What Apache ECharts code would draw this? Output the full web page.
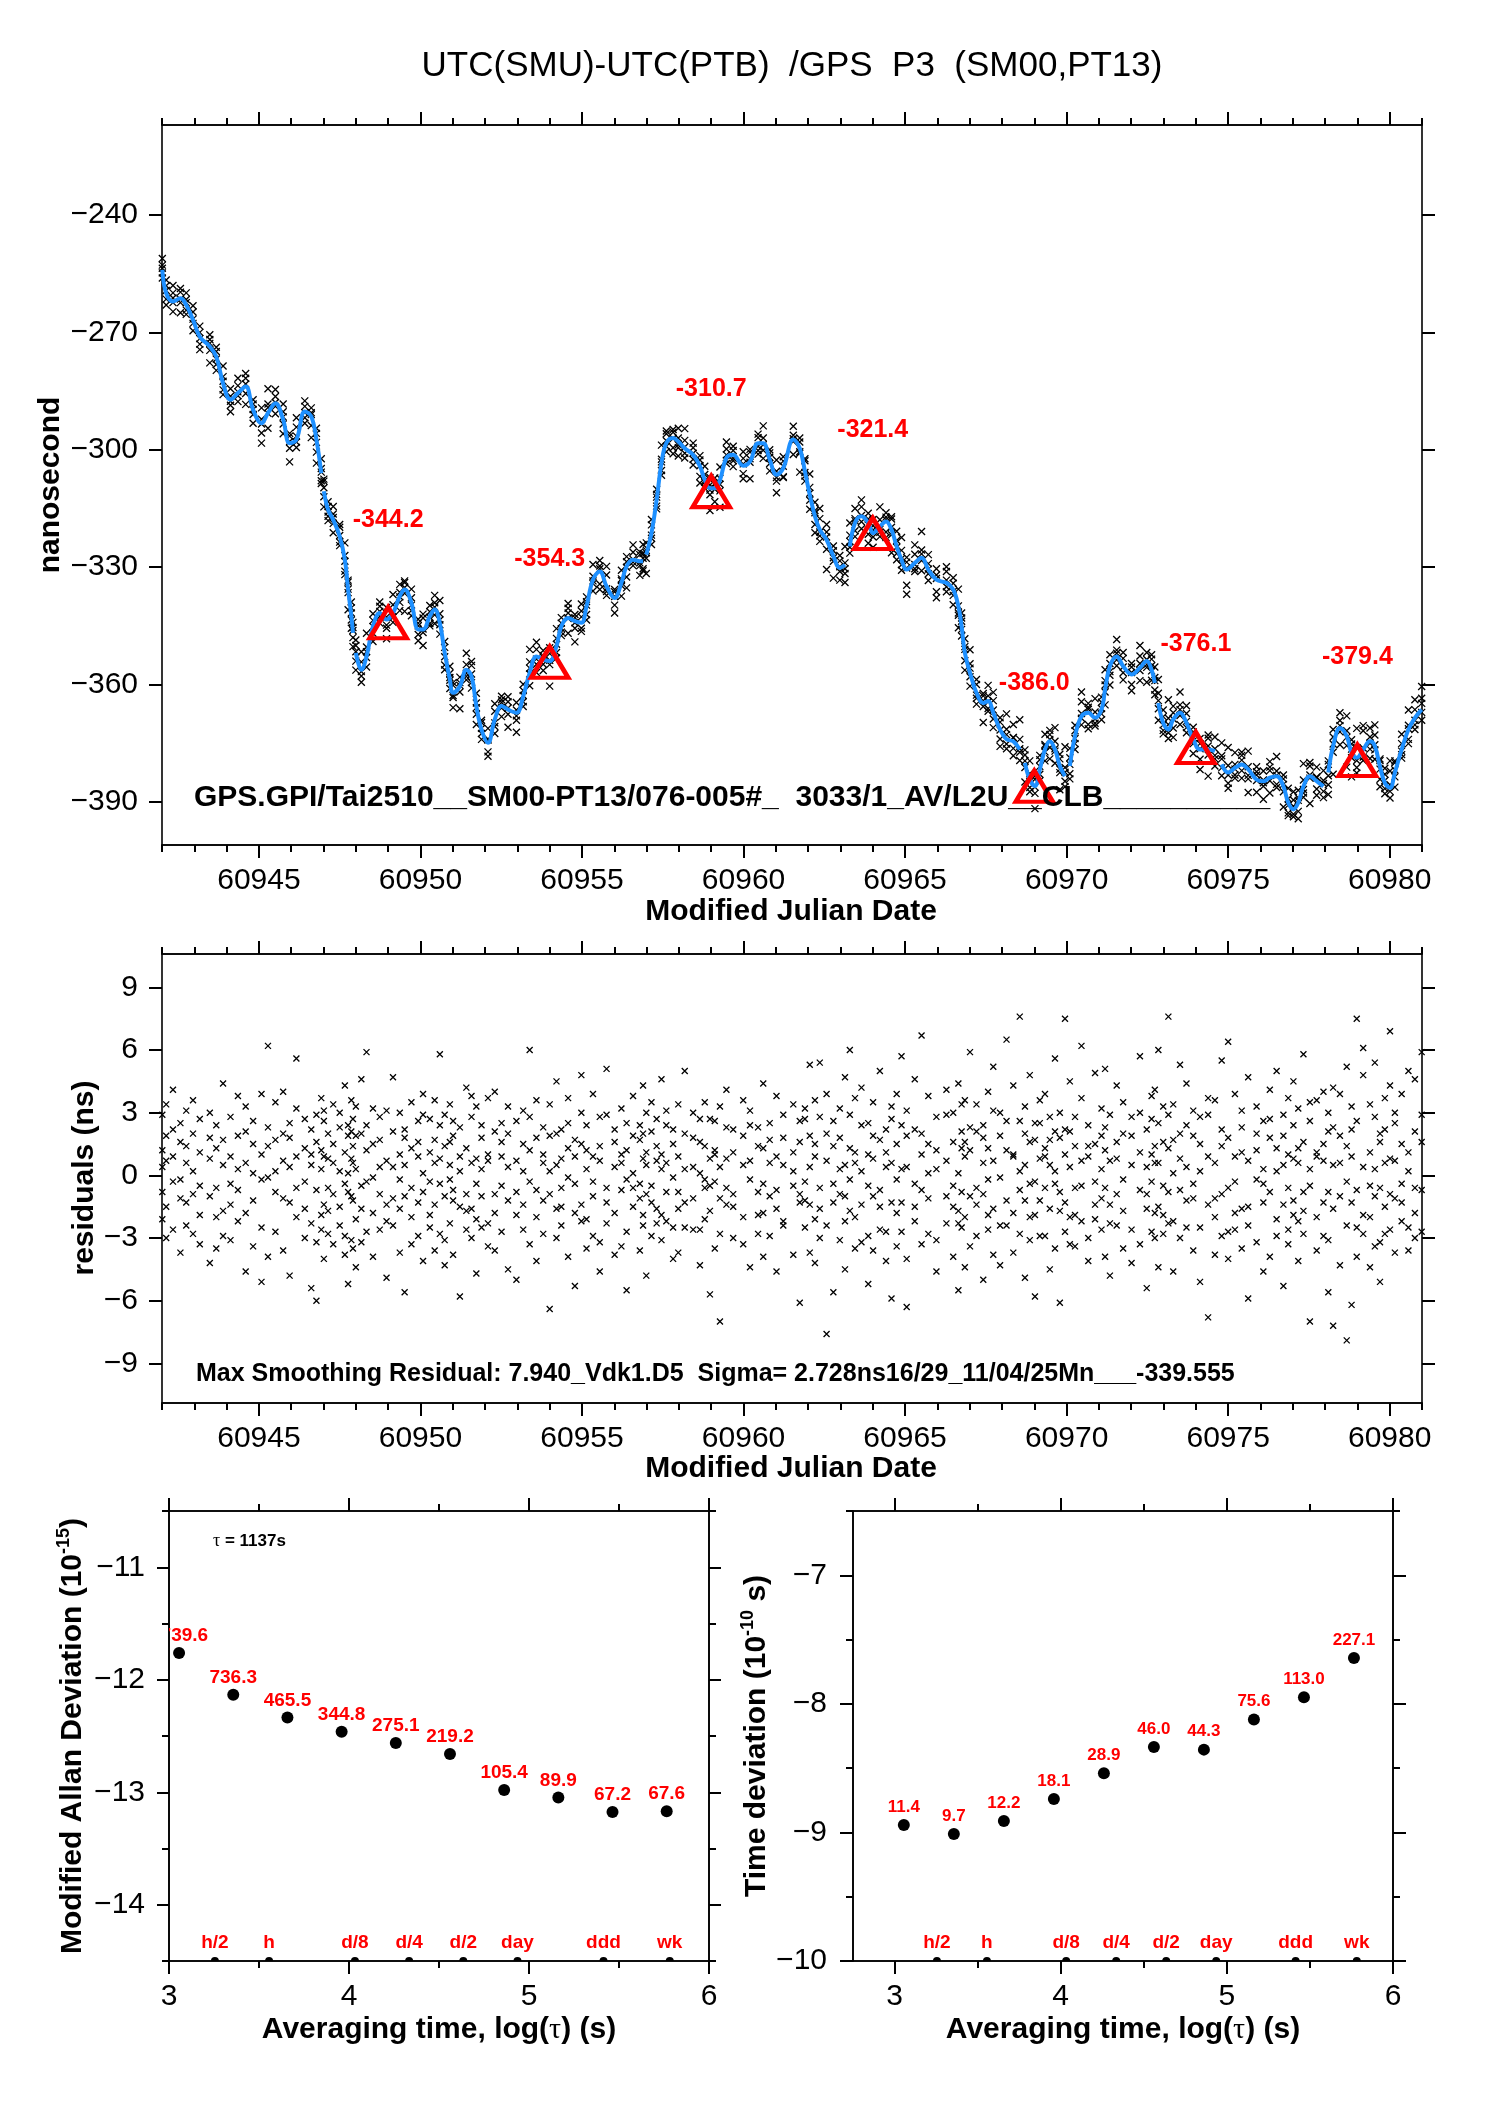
<!DOCTYPE html>
<html><head><meta charset="utf-8">
<script src="https://cdn.jsdelivr.net/npm/echarts@6/dist/echarts.min.js"></script>
<style>html,body{margin:0;padding:0;background:#fff}#c{width:1488px;height:2105px}</style>
</head><body><div id="c"></div>
<script>
// ---- smoothed curve (blue), [MJD, ns]; null = gap
const SMOOTH = [
[60942.01,-254.0],[60942.13,-260.0],[60942.34,-262.1],[60942.57,-261.3],[60942.75,-263.0],[60942.96,-266.8],
[60943.17,-271.1],[60943.48,-273.6],[60943.68,-276.2],[60943.89,-283.0],[60944.12,-287.2],[60944.35,-285.5],
[60944.59,-283.8],[60944.82,-289.8],[60945.08,-293.2],[60945.28,-290.6],[60945.51,-288.1],[60945.75,-292.3],
[60945.95,-298.3],[60946.16,-297.4],[60946.42,-290.2],[60946.62,-291.5],[60946.78,-297.4],[60946.93,-306.0],
[60946.97,null],[60947.01,-310.6],[60947.14,-315.3],[60947.30,-317.9],[60947.50,-322.1],[60947.66,-328.1],
[60947.76,-335.7],[60947.86,-342.5],[60947.91,-346.8],[60947.95,null],[60948.00,-351.9],[60948.17,-356.2],
[60948.33,-352.8],[60948.53,-345.1],[60948.74,-341.7],[60948.95,-343.4],[60949.15,-341.7],[60949.36,-337.4],
[60949.51,-335.7],[60949.72,-339.1],[60949.93,-345.9],[60950.08,-345.9],[60950.29,-342.5],[60950.44,-340.8],
[60950.60,-344.3],[60950.75,-351.9],[60950.91,-358.7],[60951.01,-362.1],[60951.22,-360.4],[60951.42,-356.2],
[60951.58,-357.9],[60951.73,-365.5],[60951.89,-371.5],[60952.09,-374.9],[60952.30,-368.9],[60952.51,-365.5],
[60952.71,-366.4],[60952.97,-367.2],[60953.18,-363.0],[60953.38,-357.0],[60953.59,-352.8],[60953.80,-353.6],
[60954.00,-354.0],[60954.21,-350.2],[60954.36,-345.1],[60954.57,-343.0],[60954.78,-343.8],[60954.98,-344.2],
[60955.14,-340.0],[60955.34,-333.2],[60955.55,-331.1],[60955.76,-334.9],[60956.01,-337.9],[60956.22,-334.0],
[60956.38,-329.8],[60956.58,-328.1],[60956.79,-328.5],[60956.89,-328.5],[60956.94,null],[60956.99,-326.8],
[60957.15,-321.3],[60957.31,-312.8],[60957.46,-303.4],[60957.61,-298.3],[60957.82,-297.0],[60957.98,-297.9],
[60958.18,-299.6],[60958.44,-301.3],[60958.65,-304.2],[60958.80,-307.7],[60958.96,-309.8],[60959.11,-309.8],
[60959.27,-307.7],[60959.47,-302.1],[60959.68,-301.3],[60959.99,-304.1],[60960.20,-303.0],[60960.45,-298.3],
[60960.61,-298.3],[60960.81,-302.5],[60961.02,-306.4],[60961.23,-304.7],[60961.54,-297.4],[60961.74,-299.6],
[60961.90,-305.5],[60962.05,-311.5],[60962.21,-317.0],[60962.36,-320.4],[60962.57,-323.0],[60962.78,-327.2],
[60962.98,-330.2],[60963.14,-329.4],[60963.20,null],[60963.29,-324.7],[60963.45,-318.7],[60963.65,-317.0],
[60963.86,-318.7],[60964.01,-321.3],[60964.22,-319.6],[60964.41,-318.3],[60964.58,-320.4],[60964.74,-324.7],
[60964.89,-328.1],[60965.05,-330.6],[60965.30,-328.9],[60965.51,-327.6],[60965.72,-330.6],[60965.97,-333.2],
[60966.28,-334.0],[60966.49,-335.7],[60966.65,-340.0],[60966.75,-345.1],[60966.85,-351.9],[60967.01,-357.0],
[60967.21,-362.1],[60967.42,-364.7],[60967.57,-364.2],[60967.73,-367.2],[60967.94,-371.5],[60968.14,-374.0],
[60968.35,-374.5],[60968.55,-376.6],[60968.63,null],[60968.71,-380.0],[60968.86,-384.3],[60969.02,-385.9],
[60969.17,-381.7],[60969.33,-376.6],[60969.48,-374.5],[60969.64,-376.6],[60969.79,-380.8],[60969.95,-383.4],
[60970.02,null],[60970.10,-380.8],[60970.26,-373.2],[60970.46,-368.1],[60970.67,-367.2],[60970.88,-368.5],
[60971.08,-366.4],[60971.19,-361.3],[60971.34,-355.3],[60971.55,-352.8],[60971.75,-355.3],[60972.01,-357.4],
[60972.27,-355.7],[60972.48,-354.0],[60972.63,-356.2],[60972.73,-359.6],[60972.78,null],[60972.84,-364.7],
[60972.99,-369.8],[60973.15,-371.5],[60973.30,-368.9],[60973.51,-367.2],[60973.71,-369.8],[60973.92,-374.0],
[60974.13,-376.6],[60974.38,-376.6],[60974.59,-377.0],[60974.69,null],[60974.80,-380.4],[60975.00,-382.5],
[60975.21,-381.3],[60975.42,-380.4],[60975.62,-381.7],[60975.88,-384.3],[60976.09,-384.7],[60976.29,-383.8],
[60976.50,-383.4],[60976.71,-386.0],[60976.86,-390.2],[60977.02,-391.9],[60977.17,-390.2],[60977.33,-386.0],
[60977.53,-383.4],[60977.74,-384.7],[60977.95,-386.0],[60978.02,null],[60978.10,-382.5],[60978.25,-375.7],
[60978.46,-371.1],[60978.67,-373.2],[60978.82,-377.4],[60978.98,-378.7],[60979.18,-376.6],[60979.39,-374.5],
[60979.54,-375.7],[60979.70,-381.0],[60979.85,-385.1],[60980.01,-386.4],[60980.16,-382.5],[60980.37,-376.6],
[60980.58,-371.5],[60980.78,-368.5],[60980.99,-366.4]
];
// ---- smoothing residuals (ns), 5 per non-gap smoothing epoch, in order
const RES = [
1.2,-0.8,2.9,-2.1,0.4, -1.5,3.4,0.7,-3.0,1.9, 2.2,-0.3,-2.6,4.1,0.9, -1.1,1.6,-3.7,2.5,-0.2,
0.6,-2.4,3.1,-1.3,1.4, 3.6,-0.9,0.2,-2.8,2.0, -3.3,1.1,2.7,-0.5,-1.9, 0.8,-4.2,1.8,3.0,-1.0,
-2.0,2.4,-0.6,1.3,-3.5, 4.4,-1.7,0.5,-2.9,1.7, -0.4,2.8,-3.1,0.9,-1.4, 1.9,-2.2,3.8,-0.7,0.3,
-1.8,0.6,-4.6,2.1,3.3, 2.6,-1.2,0.1,-3.4,1.5, -0.2,3.9,-2.5,1.0,-5.1, 1.4,-0.1,2.3,-3.9,6.2,
-2.7,1.7,-0.8,3.5,0.2, 0.7,-3.6,2.0,-1.1,4.0, -1.3,2.5,-4.8,0.4,1.8, 3.2,-2.0,0.9,-0.6,5.6,
-3.0,1.3,-1.6,2.7,-0.3, 0.5,-5.4,2.2,-2.3,1.0, 2.9,-0.7,-3.2,1.6,-6.0, -1.9,3.7,0.3,-2.6,1.2,
0.9,-1.4,2.6,-4.0,3.1, -0.6,2.0,-2.8,0.8,-1.7, 3.4,-3.3,1.5,-0.9,0.6, -2.4,0.2,3.0,-1.5,2.3,
1.1,-2.9,-0.4,4.3,-3.8, -0.8,1.9,-5.2,2.4,0.1, 2.1,-1.0,0.8,-3.1,3.6, -3.5,2.7,-1.2,0.6,1.4,
0.3,-2.1,3.3,-4.4,1.9, -1.6,4.6,-0.5,2.0,-3.2, 2.4,-0.3,-2.7,1.2,5.9, -0.1,1.5,-3.9,3.2,-1.8,
1.7,-2.6,0.4,-0.9,2.8, -2.2,3.1,-1.4,0.7,-4.9, 0.4,-1.1,2.1,-2.4,4.7, 3.0,-3.7,1.0,-0.2,-1.6,
-1.0,2.2,-5.6,1.8,0.5, 1.3,-0.6,3.5,-2.0,-3.3, -2.9,0.9,1.6,-1.3,2.6, 0.1,-4.1,2.9,3.9,-0.8,
2.7,-1.9,-0.3,1.1,-2.5, -1.4,3.6,0.6,-3.6,1.7, 0.8,-2.8,2.4,-0.4,5.8, -3.1,1.4,-1.0,2.9,-4.3,
1.6,-0.2,-2.3,0.5,3.4, -0.7,2.6,-3.8,1.9,-1.2, 2.3,-1.5,0.9,-5.8,0.2, -1.7,4.2,-0.9,1.3,-2.6,
0.6,-3.0,2.8,-1.6,3.8, 3.3,-0.4,-2.1,0.8,-4.7, -2.5,1.8,0.3,-1.0,2.4, 1.0,-2.3,3.7,-3.4,0.7,
-0.9,2.1,-1.8,4.0,-3.6, 2.5,-0.5,0.9,-2.7,1.6, -1.2,3.3,-4.5,0.4,2.0, 0.7,-1.9,2.6,-0.8,-5.0,
3.1,-2.6,0.2,1.5,-1.4, -0.3,1.2,-3.3,2.8,6.0, 1.8,-0.7,-2.0,3.6,-4.1, -2.8,2.3,0.6,-1.2,1.0,
0.2,-6.4,1.9,-0.9,3.4, 2.0,-1.6,4.5,-3.0,0.5, -1.5,0.8,-2.4,2.2,-0.6, 3.7,-3.9,1.3,-0.1,2.5,
-0.4,1.7,-5.3,0.9,-1.8, 1.5,-2.2,3.0,-1.4,4.8, -2.1,0.3,2.4,-3.5,1.2, 0.9,-1.0,-2.9,3.9,-0.3,
2.8,-3.2,0.7,1.4,-4.6, -1.3,2.9,-0.6,5.1,-2.3, 0.4,-1.8,1.6,-3.8,2.2, -3.4,1.0,3.2,-0.7,0.6,
1.2,-2.7,-0.2,2.5,-5.5, -0.6,3.8,-1.5,0.1,1.9, 2.4,-0.4,-3.6,1.7,-1.1, -1.9,2.0,0.8,-2.4,4.3,
0.5,-4.8,1.1,3.0,-0.9, 3.5,-1.3,-0.5,2.1,-2.9, -2.3,0.7,2.7,-1.6,1.4, 1.0,-3.1,0.3,4.6,-1.9,
-0.8,2.4,-2.2,0.6,3.1, 2.2,-0.1,-4.0,1.5,-2.5, -1.6,3.4,0.9,-0.8,-3.7, 0.3,-2.5,2.0,-1.3,5.0,
3.0,-1.1,-2.6,0.4,1.8, -2.6,1.6,0.1,-4.3,2.7, 1.4,-0.6,3.5,-2.1,-0.2, -0.5,2.7,-1.7,0.8,-5.7,
2.6,-3.5,1.2,-0.3,1.0, -1.1,0.4,-2.8,3.3,-7.0, 0.8,-1.4,4.1,-0.6,2.3, -3.0,2.2,-0.9,1.1,-1.5,
1.9,-2.0,0.5,-3.3,3.6, -0.2,3.1,-4.4,2.4,0.7, 2.3,-0.8,1.4,-1.9,-2.8, -1.8,1.3,-0.4,4.4,-3.9,
0.6,-2.9,2.5,-1.0,1.7, 3.8,-1.6,-0.7,0.9,-4.6, -2.4,0.5,1.8,-2.2,2.9, 1.1,-3.8,3.4,-0.5,0.2,
-0.9,2.6,-1.3,1.6,-6.1, 2.7,-0.3,-2.5,3.2,-1.2, -1.4,1.9,0.4,-3.7,5.3,
0.9,-2.1,3.6,-4.2,1.5, -1.6,2.8,-0.6,5.4,-3.0, 2.0,-7.6,0.7,-2.4,3.9, -0.4,1.4,-5.6,2.6,-1.3,
3.2,-0.9,1.8,-3.1,0.3, -2.2,4.7,-1.0,0.5,-4.5, 1.3,-1.7,2.9,-0.2,6.0, -3.5,0.6,-2.0,3.7,1.1,
0.2,-3.2,4.2,-1.4,2.4, 2.5,-0.5,-2.9,1.0,-5.2, -1.0,3.5,0.8,-3.6,1.9, 1.7,-2.6,5.0,-0.7,-1.5,
-2.7,1.1,-4.1,2.2,0.4, 0.6,-1.3,2.7,-5.9,3.3, 3.9,-0.2,-1.8,1.5,-3.4, -1.3,2.4,0.3,-2.7,5.7,
0.4,-4.0,1.9,3.1,-6.3, 2.2,-1.5,-0.4,4.6,-2.2, -0.7,1.0,-3.3,2.0,6.7, 1.5,-2.8,3.8,-1.1,0.1,
-3.1,0.3,1.2,-4.6,2.8, 2.9,-1.0,-2.3,0.7,4.1, -1.5,3.0,-0.5,-3.9,1.6, 0.1,-2.3,4.4,-1.7,-5.5,
3.4,-0.8,1.3,-2.5,2.1, -2.0,1.6,-4.4,0.9,3.6, 1.2,-3.4,2.3,5.9,-1.0, -0.6,2.1,-1.4,3.4,-2.9,
2.4,-5.0,0.6,-0.9,1.8, -1.9,4.0,-2.6,1.3,-0.2, 0.7,-1.6,3.1,-3.8,5.2, 3.0,-2.4,-0.1,1.9,-4.3,
-2.4,1.2,2.6,-1.2,6.5, 0.9,-3.7,1.0,4.3,-1.8, 2.6,-0.7,-2.8,0.2,7.6, -1.2,3.3,0.5,-4.9,2.0,
1.6,-2.0,4.8,-0.4,-3.1, -0.3,2.5,-1.9,1.7,-5.8, 3.6,-1.2,0.8,-2.9,2.5, -2.9,0.9,3.9,-0.6,1.3,
0.5,-4.5,1.7,2.8,-1.6, 2.1,-0.4,-3.5,5.6,0.2, -1.7,1.8,-0.8,3.0,-6.1, 1.0,-2.7,7.5,-1.3,2.2,
-3.3,0.4,2.1,-2.0,4.5, 2.8,-1.9,-0.6,1.4,-3.4, -0.5,3.7,-2.2,0.7,6.2, 1.4,-3.0,2.4,-4.1,0.9,
-2.1,1.5,-0.3,4.9,-1.4, 0.3,-1.1,3.2,-2.6,1.9,
2.3,-0.6,-3.9,1.2,5.1, -1.4,2.9,0.7,-2.3,-4.8, 0.8,-2.4,4.3,-0.9,1.6, 3.5,-1.7,-0.2,2.0,-3.5,
-2.6,0.5,1.9,-4.2,2.8, 1.1,-3.3,3.0,5.7,-0.7, -0.9,2.2,-1.6,0.4,-5.4, 2.7,-0.3,-2.7,3.8,1.0,
-1.8,4.1,0.6,-3.0,1.4, 0.6,-1.5,2.5,-4.4,6.0, 3.3,-2.8,-0.5,1.6,-1.9, -2.3,7.6,1.3,-0.8,2.9,
1.7,-4.6,3.4,0.1,-2.2, -0.7,2.0,-3.0,5.3,0.8, 2.4,-1.2,0.4,-2.5,4.4, -3.6,1.9,-1.1,3.1,-0.4,
0.2,-2.5,2.8,-5.1,1.5, 2.9,-6.8,0.9,-1.4,3.7, -1.1,3.6,-3.8,0.6,-2.0, 1.4,-0.9,2.2,-2.9,5.5,
-2.7,6.4,-0.6,1.8,-4.0, 0.9,-1.8,3.9,-0.3,-2.6, 3.1,-3.5,1.1,-1.6,2.3, -1.5,0.7,-2.4,4.7,-5.9,
2.0,-0.2,3.3,-3.2,1.2, -0.4,2.6,-1.3,0.3,-4.6, 1.8,-3.9,4.1,-0.8,2.7, -2.9,1.3,0.2,-2.1,5.0,
0.5,-1.4,2.9,-5.3,1.9, 3.7,-0.6,-2.6,1.0,-3.3, -1.2,4.5,0.8,-1.9,2.4, 1.3,-2.2,-4.1,3.2,0.6,
-0.8,1.6,-1.7,5.8,-2.8, 2.6,-7.0,0.3,-0.5,3.5, -2.0,0.9,3.6,-3.6,1.1, 0.7,-2.9,1.5,4.0,-1.3,
3.0,-0.8,-3.1,2.1,-5.6, -1.6,2.3,-7.2,0.5,4.2, 1.9,-4.3,0.6,3.9,-1.0, -0.3,5.2,-7.9,1.4,-2.4,
2.2,-1.3,3.3,-6.2,0.9, -2.5,7.5,-0.7,2.6,-3.9, 0.4,-1.9,4.8,-2.8,6.1, 3.4,-0.5,-2.0,1.1,-4.4,
-1.0,2.8,0.3,-3.4,5.4, 1.6,-3.2,2.0,-0.6,-5.1, -2.8,0.6,3.7,-1.5,2.2, 0.8,6.9,-2.6,4.3,-0.9,
2.5,-1.1,-3.7,0.7,3.0, -1.3,3.9,-0.4,-2.2,1.5, 1.1,-2.5,5.0,-3.6,0.2, -0.6,2.1,-1.8,4.6,-3.0,
2.9,-0.7,1.6,-2.7,5.9
];
const PER_EPOCH = 5;
// ---- weekly reference points on the top panel
const TRI_X = [60949,60954,60959,60964,60969,60974,60979];
const TRI_Y = [-344.2,-354.3,-310.7,-321.4,-386.0,-376.1,-379.4];
// ---- stability plots
const LOGTAU = [3.056,3.357,3.658,3.959,4.260,4.561,4.862,5.163,5.464,5.765];
const MDEV = [-11.762,-12.134,-12.335,-12.463,-12.562,-12.661,-12.980,-13.047,-13.175,-13.168];
const MDEV_LABELS = ['1739.6','736.3','465.5','344.8','275.1','219.2','105.4','89.9','67.2','67.6'];
const TDEV = [-8.942,-9.013,-8.911,-8.740,-8.539,-8.335,-8.356,-8.121,-7.948,-7.644];
const TDEV_LABELS = ['11.4','9.7','12.2','18.1','28.9','46.0','44.3','75.6','113.0','227.1'];
const MARK_X = [3.255,3.556,4.033,4.334,4.635,4.936,5.414,5.782];
const MARK_LABELS = ['h/2','h','d/8','d/4','d/2','day','ddd','wk'];
// ---- ticks
const MJD_MAJOR = [60945,60950,60955,60960,60965,60970,60975,60980];
const MJD_MINOR = []; for (let d = 60942; d <= 60981; d++) MJD_MINOR.push(d);
const NS_TICKS = [-390,-360,-330,-300,-270,-240];
const RES_TICKS = [-9,-6,-3,0,3,6,9];
const LT_MAJOR = [3,4,5,6], LT_MINOR = [3.5,4.5,5.5];
const MD_MAJOR = [-14,-13,-12,-11], MD_MINOR = [-14.5,-13.5,-12.5,-11.5,-10.5];
const TD_MAJOR = [-10,-9,-8,-7], TD_MINOR = [-9.5,-8.5,-7.5,-6.5];

const FONT = '"Liberation Sans", Arial, Helvetica, sans-serif';
const SERIF = '"Liberation Serif", "Times New Roman", serif';
const fmt = v => (v < 0 ? '\u2212' : '') + Math.abs(v);

function ax(grid, pos, min, max, ticks, len, labels, margin) {
  return {
    type: 'value', gridIndex: grid, position: pos, min: min, max: max,
    axisLine: {show: true, onZero: false, lineStyle: {color: '#000', width: 1.6}},
    axisTick: {show: true, inside: false, length: len, customValues: ticks, lineStyle: {color: '#000', width: 2}},
    axisLabel: labels ? {show: true, customValues: labels, margin: margin, fontSize: 30, fontFamily: FONT, color: '#000', formatter: fmt} : {show: false},
    splitLine: {show: false}, splitArea: {show: false}
  };
}

const xAxis = [], yAxis = [];
function mjdX(g) {
  xAxis.push(ax(g, 'bottom', 60942, 60981, MJD_MAJOR, 13, MJD_MAJOR, 21));
  xAxis.push(ax(g, 'top', 60942, 60981, MJD_MAJOR, 13, null));
  xAxis.push(ax(g, 'bottom', 60942, 60981, MJD_MINOR, 7, null));
  xAxis.push(ax(g, 'top', 60942, 60981, MJD_MINOR, 7, null));
}
mjdX(0); // x 0-3
mjdX(1); // x 4-7
yAxis.push(ax(0, 'left', -401, -217, NS_TICKS, 13, NS_TICKS, 24)); // y0
yAxis.push(ax(0, 'right', -401, -217, NS_TICKS, 13, null));        // y1
yAxis.push(ax(1, 'left', -10.9, 10.6, RES_TICKS, 13, RES_TICKS, 24)); // y2
yAxis.push(ax(1, 'right', -10.9, 10.6, RES_TICKS, 13, null));         // y3
function ltX(g, min) {
  xAxis.push(ax(g, 'bottom', min, 6, LT_MAJOR, 13, LT_MAJOR, 21));
  xAxis.push(ax(g, 'top', min, 6, LT_MAJOR, 13, null));
  xAxis.push(ax(g, 'bottom', min, 6, LT_MINOR, 7, null));
  xAxis.push(ax(g, 'top', min, 6, LT_MINOR, 7, null));
}
ltX(2, 3);    // x 8-11
ltX(3, 2.75); // x 12-15
yAxis.push(ax(2, 'left', -14.5, -10.5, MD_MAJOR, 12, MD_MAJOR, 24)); // y4
yAxis.push(ax(2, 'right', -14.5, -10.5, MD_MAJOR, 12, null));        // y5
yAxis.push(ax(2, 'left', -14.5, -10.5, MD_MINOR, 7, null));          // y6
yAxis.push(ax(2, 'right', -14.5, -10.5, MD_MINOR, 7, null));         // y7
yAxis.push(ax(3, 'left', -10, -6.5, TD_MAJOR, 13, TD_MAJOR, 26));    // y8
yAxis.push(ax(3, 'right', -10, -6.5, TD_MAJOR, 13, null));           // y9
yAxis.push(ax(3, 'left', -10, -6.5, TD_MINOR, 7, null));             // y10
yAxis.push(ax(3, 'right', -10, -6.5, TD_MINOR, 7, null));            // y11

// build data
const lineData = SMOOTH.map(p => [p[0], p[1] === null ? '-' : p[1]]);
const rawPts = [], resPts = [];
let k = 0;
SMOOTH.forEach(p => {
  if (p[1] === null) return;
  for (let j = 0; j < PER_EPOCH; j++) {
    const r = RES[k++];
    if (r === undefined) continue;
    rawPts.push([p[0], +(p[1] + r).toFixed(2)]);
    resPts.push([p[0], r]);
  }
});

const XSYM = 'path://M0,0L10,10M10,0L0,10';
const xStyle = {color: 'rgba(0,0,0,0)', borderColor: '#000', borderWidth: 1.3, opacity: 1};

function labelSeries(xi, yi, xs, ys, labels, size, dy) {
  return {
    type: 'custom', xAxisIndex: xi, yAxisIndex: yi, clip: true, silent: true, z: 5,
    data: xs.map((x, i) => [x, ys[i]]),
    renderItem: (params, api) => {
      const p = api.coord([api.value(0), api.value(1)]);
      return {type: 'text', x: p[0], y: p[1] - dy, style: {text: labels[params.dataIndex], font: 'bold ' + size + 'px ' + FONT, fill: '#ff0000', align: 'center', textAlign: 'center', verticalAlign: 'middle', textVerticalAlign: 'middle'}};
    }
  };
}
function markSeries(xi, yi, ymin) {
  return {
    type: 'custom', xAxisIndex: xi, yAxisIndex: yi, clip: true, silent: true, z: 5,
    data: MARK_X.map(x => [x, ymin]),
    renderItem: (params, api) => {
      const p = api.coord([api.value(0), api.value(1)]);
      return {type: 'group', children: [
        {type: 'circle', shape: {cx: p[0], cy: p[1], r: 4}, style: {fill: '#000'}},
        {type: 'text', x: p[0], y: p[1] - 18, style: {text: MARK_LABELS[params.dataIndex], font: 'bold 19px ' + FONT, fill: '#ff0000', align: 'center', textAlign: 'center', verticalAlign: 'middle', textVerticalAlign: 'middle'}}
      ]};
    }
  };
}

function txt(x, y, text, font, align, rot, rich) {
  const e = {type: 'text', x: x, y: y, z: 100, silent: true,
    style: {text: text, font: font, fill: '#000', align: align, textAlign: align, verticalAlign: 'middle', textVerticalAlign: 'middle'}};
  if (rot) e.rotation = rot;
  if (rich) e.style.rich = rich;
  return e;
}
const B29 = 'bold 30px ' + FONT;
const richA = {a: {font: B29, lineHeight: 36, verticalAlign: 'middle'}, s: {font: 'bold 18px ' + FONT, verticalAlign: 'top', lineHeight: 20}, t: {font: 'normal 30px ' + SERIF, lineHeight: 36}};

const option = {
  animation: false,
  backgroundColor: '#fff',
  grid: [
    {left: 162, top: 125, width: 1260, height: 720},
    {left: 162, top: 954, width: 1260, height: 449},
    {left: 169, top: 1511, width: 540, height: 450},
    {left: 853, top: 1511, width: 540, height: 450}
  ],
  xAxis: xAxis, yAxis: yAxis,
  series: [
    {type: 'scatter', xAxisIndex: 0, yAxisIndex: 0, data: rawPts, symbol: XSYM, symbolSize: 7, itemStyle: xStyle, silent: true, z: 2},
    {type: 'line', xAxisIndex: 0, yAxisIndex: 0, data: lineData, showSymbol: false, symbol: 'none', smooth: 0.4, connectNulls: false,
     lineStyle: {color: '#1E90FF', width: 4, opacity: 1}, silent: true, z: 3},
    {type: 'scatter', xAxisIndex: 0, yAxisIndex: 0, data: TRI_X.map((x, i) => [x, TRI_Y[i]]), symbol: 'triangle', symbolSize: [37, 31],
     itemStyle: {color: 'rgba(0,0,0,0)', borderColor: '#ff0000', borderWidth: 4.5, opacity: 1}, silent: true, z: 4,
     label: {show: true, position: 'inside', offset: [0, -103], formatter: p => TRI_Y[p.dataIndex].toFixed(1), color: '#ff0000', fontWeight: 'bold', fontSize: 25, fontFamily: FONT}},
    {type: 'scatter', xAxisIndex: 4, yAxisIndex: 2, data: resPts, symbol: XSYM, symbolSize: 6, itemStyle: xStyle, silent: true, z: 2},
    {type: 'scatter', xAxisIndex: 8, yAxisIndex: 4, data: LOGTAU.map((x, i) => [x, MDEV[i]]), symbol: 'circle', symbolSize: 12, itemStyle: {color: '#000', opacity: 1}, silent: true, z: 3},
    labelSeries(8, 4, LOGTAU, MDEV, MDEV_LABELS, 19, 17),
    markSeries(8, 4, -14.5),
    {type: 'scatter', xAxisIndex: 12, yAxisIndex: 8, data: LOGTAU.map((x, i) => [x, TDEV[i]]), symbol: 'circle', symbolSize: 12, itemStyle: {color: '#000', opacity: 1}, silent: true, z: 3},
    labelSeries(12, 8, LOGTAU, TDEV, TDEV_LABELS, 17, 18),
    markSeries(12, 8, -10)
  ],
  graphic: {elements: [
    txt(792, 66, 'UTC(SMU)-UTC(PTB)  /GPS  P3  (SM00,PT13)', 'normal 35px ' + FONT, 'center'),
    txt(51, 485, 'nanosecond', B29, 'center', Math.PI / 2),
    txt(791, 912, 'Modified Julian Date', B29, 'center'),
    txt(194, 798, 'GPS.GPI/Tai2510__SM00-PT13/076-005#_  3033/1_AV/L2U__CLB__________', B29, 'left'),
    txt(85, 1178, 'residuals (ns)', B29, 'center', Math.PI / 2),
    txt(791, 1469, 'Modified Julian Date', B29, 'center'),
    txt(196, 1374, 'Max Smoothing Residual: 7.940_Vdk1.D5  Sigma= 2.728ns16/29_11/04/25Mn___-339.555', 'bold 25px ' + FONT, 'left'),
    txt(73, 1736, '{a|Modified Allan Deviation (10}{s|-15}{a|)}', B29, 'center', Math.PI / 2, richA),
    txt(439, 2030, '{a|Averaging time, log(}{t|\u03C4}{a|) (s)}', B29, 'center', 0, richA),
    txt(757, 1736, '{a|Time deviation (10}{s|-10}{a| s)}', B29, 'center', Math.PI / 2, richA),
    txt(1123, 2030, '{a|Averaging time, log(}{t|\u03C4}{a|) (s)}', B29, 'center', 0, richA),
    txt(213, 1541, '{t|\u03C4}{b| = 1137s}', 'bold 17px ' + FONT, 'left', 0,
        {t: {font: 'normal 18px ' + SERIF}, b: {font: 'bold 17px ' + FONT}})
  ]}
};

const chart = echarts.init(document.getElementById('c'), null, {renderer: 'canvas', width: 1488, height: 2105});
chart.setOption(option);
</script>
</body></html>
